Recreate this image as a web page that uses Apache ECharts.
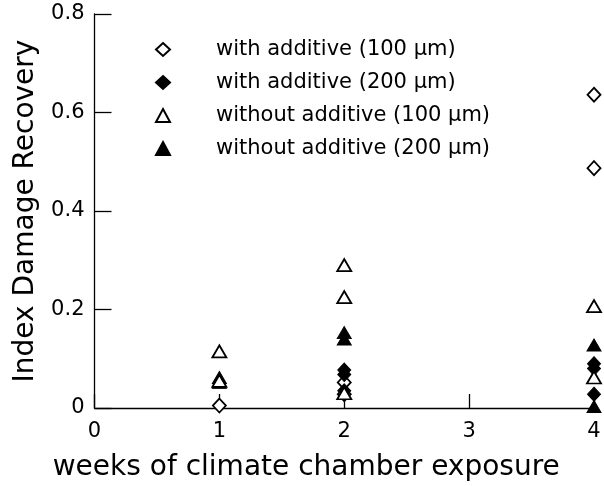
<!DOCTYPE html>
<html>
<head>
<meta charset="utf-8">
<script src="https://cdn.jsdelivr.net/npm/echarts@6/dist/echarts.min.js"></script>
<style>
  html, body { margin: 0; padding: 0; background: #fff; }
  #chart { width: 604px; height: 486px; }
</style>
</head>
<body>
<div id="chart"></div>
<script>
// Exposure time (weeks) and recovery index for each sample group
const seriesNames = [
  'with additive (100 \u03bcm)',
  'with additive (200 \u03bcm)',
  'without additive (100 \u03bcm)',
  'without additive (200 \u03bcm)'
];
const withAdd100 = [[1, 0.005], [2, 0.052], [2, 0.028], [4, 0.636], [4, 0.487]];
const withAdd200 = [[2, 0.077], [2, 0.068], [2, 0.035], [4, 0.090], [4, 0.080], [4, 0.028]];
const withoutAdd100 = [[1, 0.115], [1, 0.055], [2, 0.290], [2, 0.225], [2, 0.030], [4, 0.207], [4, 0.062]];
const withoutAdd200 = [[1, 0.062], [1, 0.052], [2, 0.153], [2, 0.140], [4, 0.128], [4, 0.003]];
const xTicks = [0, 1, 2, 3, 4];
const yTicks = [0, 0.2, 0.4, 0.6, 0.8];

const FONT = '"Comic Sans MS", "DejaVu Sans", sans-serif';

const openStyle = { color: '#fff', borderColor: '#000', borderWidth: 1.8, opacity: 1 };
const fillStyle = { color: '#000', borderColor: '#000', borderWidth: 1, opacity: 1 };

function scatter(name, data, symbol, size, style) {
  return {
    name: name,
    type: 'scatter',
    data: data,
    symbol: symbol,
    symbolSize: size,
    itemStyle: style,
    clip: false,
    emphasis: { disabled: true }
  };
}

const chart = echarts.init(document.getElementById('chart'), null, { renderer: 'canvas' });
chart.setOption({
  animation: false,
  backgroundColor: '#fff',
  grid: {
    left: 94.5, right: 10, top: 14, bottom: 78,
    containLabel: false,
    outerBoundsMode: 'none'
  },
  legend: {
    orient: 'vertical',
    left: 150,
    top: 34,
    itemWidth: 14,
    itemHeight: 13,
    itemGap: 12,
    selectedMode: false,
    textStyle: { fontFamily: FONT, fontSize: 21, color: '#000', padding: [0, 0, 0, 41] },
    data: seriesNames.map(function (n) { return { name: n }; })
  },
  xAxis: {
    type: 'value',
    min: xTicks[0],
    max: xTicks[xTicks.length - 1],
    interval: 1,
    name: 'weeks of climate chamber exposure',
    nameLocation: 'middle',
    nameGap: 46,
    nameTextStyle: { fontFamily: FONT, fontSize: 28, color: '#000', padding: [0, 76, 0, 0] },
    axisLine: { show: true, onZero: false, lineStyle: { color: '#000', width: 1.3 } },
    axisTick: { show: true, inside: true, length: 14, lineStyle: { color: '#000', width: 1.3 } },
    axisLabel: { fontFamily: FONT, fontSize: 21, color: '#000', margin: 13 },
    splitLine: { show: false }
  },
  yAxis: {
    type: 'value',
    min: yTicks[0],
    max: yTicks[yTicks.length - 1],
    interval: 0.2,
    name: 'Index Damage Recovery',
    nameLocation: 'middle',
    nameGap: 55,
    nameTextStyle: { fontFamily: FONT, fontSize: 28, color: '#000' },
    axisLine: { show: true, onZero: false, lineStyle: { color: '#000', width: 1.3 } },
    axisTick: { show: true, inside: true, length: 17, lineStyle: { color: '#000', width: 1.3 } },
    axisLabel: {
      fontFamily: FONT, fontSize: 21, color: '#000', margin: 10,
      formatter: function (v) { return v === 0 ? '0' : v.toFixed(1); }
    },
    splitLine: { show: false }
  },
  series: [
    scatter(seriesNames[0], withAdd100, 'diamond', [13, 14], openStyle),
    scatter(seriesNames[1], withAdd200, 'diamond', [13, 14], fillStyle),
    scatter(seriesNames[3], withoutAdd200, 'triangle', [14, 12], fillStyle),
    scatter(seriesNames[2], withoutAdd100, 'triangle', [14, 12], openStyle)
  ]
});
</script>
</body>
</html>
